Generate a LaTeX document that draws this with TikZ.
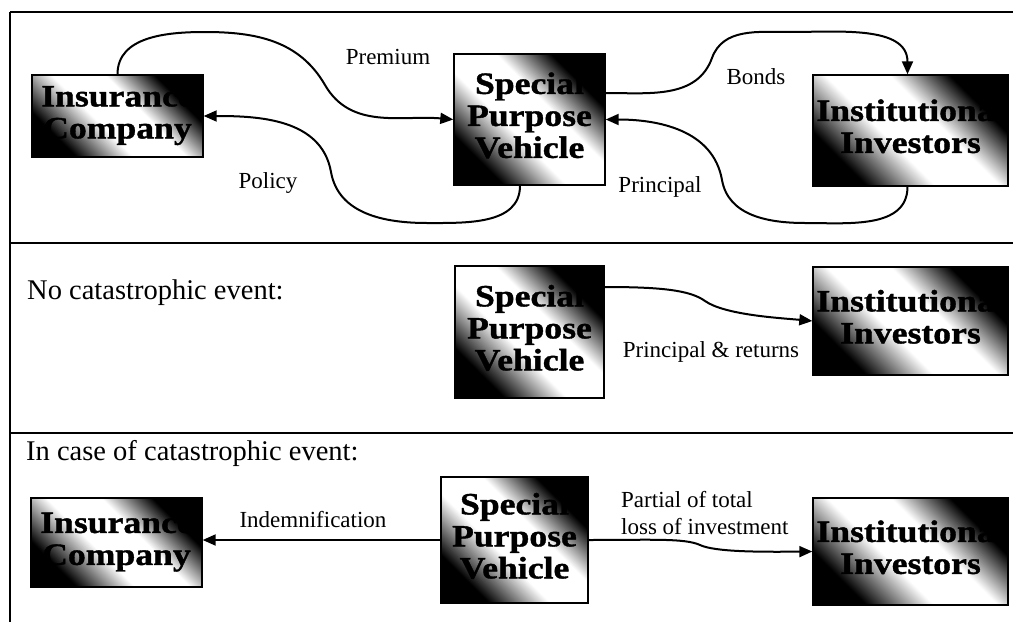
\documentclass[tikz,border=0pt]{standalone}
\usepackage{fontspec}
\setmainfont{Liberation Serif}
\newfontfamily\boxfont[FakeStretch=1.15,FakeBold=1.2]{Liberation Serif}
\usetikzlibrary{arrows.meta,calc}
\pgfdeclarehorizontalshading{diagband}{100bp}{color(0bp)=(black); color(27bp)=(black); color(43bp)=(white); color(58bp)=(white); color(72bp)=(black); color(100bp)=(black)}
\newcommand\boxtext[2]{\raisebox{#1}{\begin{tabular}{@{}c@{}}#2\end{tabular}}}
\begin{document}
\begin{tikzpicture}[x=1pt,y=1pt,
  entity/.style={draw=black, line width=1.4pt, shading=diagband, shading angle=45, rectangle, inner sep=0pt, align=center, font=\boxfont\bfseries\fontsize{31}{32}\selectfont},
  flow/.style={line width=2pt, -{Triangle[length=13pt,width=11pt]}},
  lbl/.style={font=\fontsize{23}{27}\selectfont, inner sep=0pt},
  heading/.style={font=\fontsize{28.5}{32}\selectfont, anchor=west, inner sep=0pt},
  frame/.style={line width=1.6pt}]
\useasboundingbox (0,0) rectangle (1013,-629);

% frame and separators
\draw[frame] (10,-12) -- (1013,-12);
\draw[frame] (10,-12) -- (10,-622);
\draw[frame] (10,-243) -- (1013,-243);
\draw[frame] (10,-433) -- (1013,-433);

% top panel
\node[entity, minimum width=171pt, minimum height=82pt] (insA) at (117.5,-116) {\boxtext{0pt}{Insurance\\Company}};
\node[entity, minimum width=151pt, minimum height=131pt] (spvA) at (529.5,-119.5) {\boxtext{6pt}{Special\\Purpose\\Vehicle}};
\node[entity, minimum width=195pt, minimum height=111pt] (invA) at (910.5,-130.5) {\boxtext{12pt}{Institutional\\Investors}};

\draw[flow] (insA.north) to[out=90,in=180] (205,-32) to[out=0,in=120] (325,-85) to[out=-60,in=175] (spvA.west);
\draw[flow] ([xshift=-9.5pt]spvA.south) to[out=-90,in=0] (427,-223) to[out=180,in=-80] (331,-172) to[out=100,in=0] (insA.east);
\draw[flow] ([yshift=26.5pt]spvA.east) to[out=0,in=-110] (712,-58) to[out=70,in=180] (790,-32) to[out=0,in=90] ([xshift=-3pt]invA.north);
\draw[flow] ([xshift=-3pt]invA.south) to[out=-90,in=0] (805,-223) to[out=180,in=-80] (722,-180) to[out=100,in=0] (spvA.east);

\node[lbl] (lpremium) at (388,-57) {Premium};
\node[lbl] (lbonds) at (756,-77) {Bonds};
\node[lbl] (lpolicy) at (268,-183) {Policy};
\node[lbl] (lprincipal) at (660,-187) {Principal};

% middle panel
\node[heading] (hno) at (27,-293) {No catastrophic event:};
\node[entity, minimum width=149pt, minimum height=132pt] (spvB) at (529.5,-332) {\boxtext{5pt}{Special\\Purpose\\Vehicle}};
\node[entity, minimum width=195pt, minimum height=108pt] (invB) at (910.5,-321) {\boxtext{9pt}{Institutional\\Investors}};
\draw[flow] ([yshift=45pt]spvB.east) .. controls (660,-287) and (690,-290) .. (705,-301) .. controls (725,-315) and (780,-318) .. (invB.west);
\node[lbl] (lpr) at (711,-352) {Principal \& returns};

% bottom panel
\node[heading] (hcase) at (26,-453) {In case of catastrophic event:};
\node[entity, minimum width=171pt, minimum height=89pt] (insC) at (116.5,-542.5) {\boxtext{0pt}{Insurance\\Company}};
\node[entity, minimum width=147pt, minimum height=126pt] (spvC) at (514.5,-540) {\boxtext{3pt}{Special\\Purpose\\Vehicle}};
\node[entity, minimum width=195pt, minimum height=107pt] (invC) at (910.5,-551.5) {\boxtext{10pt}{Institutional\\Investors}};
\draw[flow] (spvC.west) -- (spvC.west -| insC.east);
\draw[flow] (spvC.east) .. controls (650,-540) and (685,-538) .. (700,-545) .. controls (715,-552) and (760,-552) .. (invC.west);
\node[lbl] (lind) at (313,-520) {Indemnification};
\node[lbl, align=left, anchor=west] (lpartial) at (621,-513) {Partial of total\\loss of investment};
\end{tikzpicture}
\end{document}
